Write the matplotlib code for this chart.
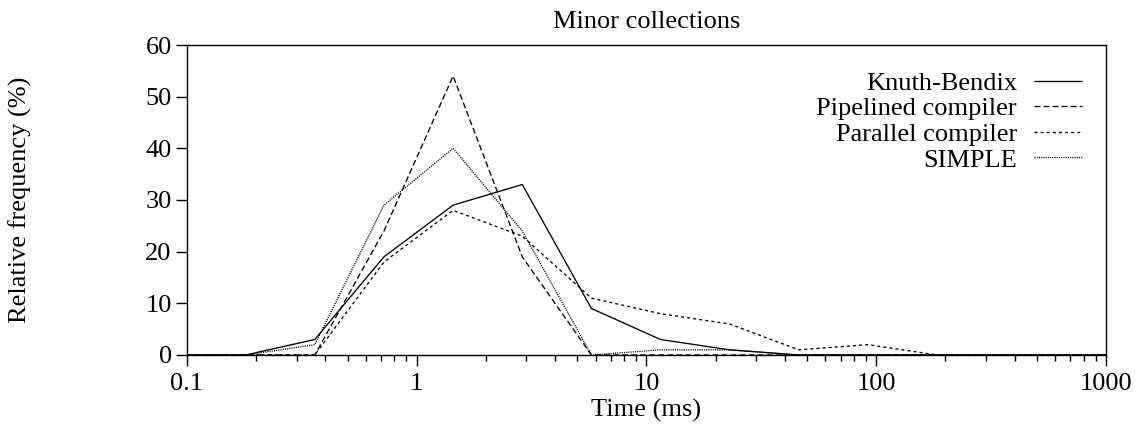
import matplotlib
matplotlib.use('Agg')
import matplotlib.pyplot as plt
from matplotlib.ticker import LogLocator, NullFormatter

plt.rcParams['font.family'] = ['Liberation Serif', 'DejaVu Serif']
plt.rcParams['lines.scale_dashes'] = False

# bin centres (ms) and relative frequencies (%)
time_ms = [0.09, 0.18, 0.36, 0.72, 1.44, 2.88, 5.76, 11.5, 23, 46, 92, 184, 368, 737, 1474]
knuth = [0, 0, 3, 19, 29, 33, 9, 3, 1, 0, 0, 0, 0, 0, 0]
pipelined = [0, 0, 0, 24, 54, 19, 0, 0, 0, 0, 0, 0, 0, 0, 0]
parallel = [0, 0, 0, 18, 28, 23, 11, 8, 6, 1, 2, 0, 0, 0, 0]
simple = [0, 0, 2, 29, 40, 24, 0, 1, 1, 0, 0, 0, 0, 0, 0]

labels = ['Knuth-Bendix', 'Pipelined compiler', 'Parallel compiler', 'SIMPLE']
styles = [(0, ()), (0, (4.3, 2.2)), (0, (2.2, 2.2)), (0, (0.8, 0.8))]

fs = 19

fig = plt.figure(figsize=(11.42, 4.29), dpi=100)
ax = fig.add_axes([0.1637, 0.1725, 0.8048, 0.7226])

for ys, lab, ls in zip([knuth, pipelined, parallel, simple], labels, styles):
    ax.plot(time_ms, ys, color='black', lw=0.95, linestyle=ls, label=lab)

ax.set_xscale('log')
ax.set_xlim(0.1, 1000)
ax.set_ylim(0, 60)
ax.set_xticks([0.1, 1, 10, 100, 1000])
ax.set_xticklabels(['0.1', '1', '10', '100', '1000'])
ax.xaxis.set_minor_locator(LogLocator(base=10, subs=range(2, 10)))
ax.xaxis.set_minor_formatter(NullFormatter())
ax.set_yticks(range(0, 61, 10))

ax.tick_params(axis='both', which='major', direction='out', length=8, width=1,
               labelsize=fs, top=False, right=False)
ax.tick_params(axis='x', which='major', pad=5)
ax.tick_params(axis='y', which='major', pad=3)
ax.tick_params(axis='x', which='minor', direction='out', length=4, width=1)
ax.tick_params(axis='y', which='minor', left=False)
for s in ax.spines.values():
    s.set_linewidth(1.0)

ax.set_title('Minor collections', fontsize=fs, pad=12)
ax.set_xlabel('Time (ms)', fontsize=fs, labelpad=3)
ax.set_ylabel('Relative frequency (%)', fontsize=fs)
ax.yaxis.set_label_coords(-0.169, 0.5)

leg = ax.legend(loc='upper right', bbox_to_anchor=(0.974, 0.915), frameon=False,
                markerfirst=False, fontsize=fs, handlelength=1.82,
                handletextpad=0.65, labelspacing=0.08, borderpad=0,
                borderaxespad=0)
for vp in leg._legend_handle_box.get_children():
    vp.align = 'right'

plt.savefig('out.png', dpi=100)
